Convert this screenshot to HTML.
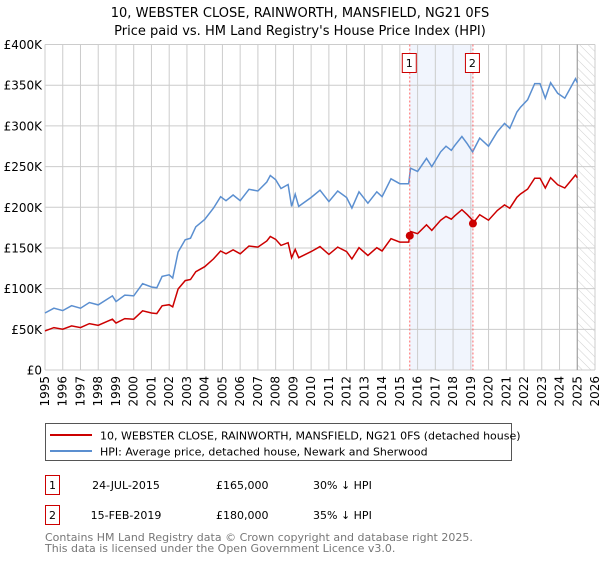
<!DOCTYPE html>
<html><head><meta charset="utf-8"><style>
body{margin:0;background:#fff;font-family:"Liberation Sans","DejaVu Sans",sans-serif;}
svg text{font-family:"DejaVu Sans","Liberation Sans",sans-serif;}
</style></head><body>
<svg width="600" height="560" viewBox="0 0 600 560" xmlns="http://www.w3.org/2000/svg">
<defs><pattern id="hatch" width="6" height="6" patternUnits="userSpaceOnUse" patternTransform="rotate(-45)"><line x1="0" y1="0" x2="0" y2="6" stroke="#d0d0d0" stroke-width="1"/></pattern></defs>
<text x="300" y="17" text-anchor="middle" font-size="13" fill="#000">10, WEBSTER CLOSE, RAINWORTH, MANSFIELD, NG21 0FS</text>
<text x="300" y="35" text-anchor="middle" font-size="13" fill="#000">Price paid vs. HM Land Registry's House Price Index (HPI)</text>
<g id="grid"></g>
<g id="marks"></g>
<g id="axes"></g>
<rect x="45.5" y="423.5" width="466" height="37" fill="#fff" stroke="#555"/>
<line x1="50" y1="435" x2="92" y2="435" stroke="#cc0000" stroke-width="2"/>
<text x="100" y="439.5" font-size="11">10, WEBSTER CLOSE, RAINWORTH, MANSFIELD, NG21 0FS (detached house)</text>
<line x1="50" y1="451" x2="92" y2="451" stroke="#5b8fd0" stroke-width="2"/>
<text x="100" y="455.5" font-size="11">HPI: Average price, detached house, Newark and Sherwood</text>
<g font-size="11">
<rect x="45.5" y="475.5" width="14" height="19" fill="#fff" stroke="#cc0000"/><text x="52.5" y="489" text-anchor="middle">1</text>
<text x="126" y="489" text-anchor="middle">24-JUL-2015</text><text x="216" y="489">£165,000</text><text x="313" y="489">30% ↓ HPI</text></g>
<g font-size="11">
<rect x="45.5" y="505.5" width="14" height="19" fill="#fff" stroke="#cc0000"/><text x="52.5" y="519" text-anchor="middle">2</text>
<text x="126" y="519" text-anchor="middle">15-FEB-2019</text><text x="216" y="519">£180,000</text><text x="313" y="519">35% ↓ HPI</text></g>
<text x="45" y="541" font-size="11" fill="#777">Contains HM Land Registry data © Crown copyright and database right 2025.</text>
<text x="45" y="552" font-size="11" fill="#777">This data is licensed under the Open Government Licence v3.0.</text>
</svg>
<script>
const hpiYears=[1995.0,1995.5,1996.0,1996.5,1997.0,1997.5,1998.0,1998.5,1998.8,1999.0,1999.5,2000.0,2000.5,2001.0,2001.3,2001.6,2002.0,2002.2,2002.5,2002.9,2003.2,2003.5,2004.0,2004.5,2004.9,2005.2,2005.6,2006.0,2006.5,2007.0,2007.5,2007.7,2008.0,2008.3,2008.7,2008.9,2009.1,2009.3,2010.0,2010.5,2011.0,2011.5,2012.0,2012.3,2012.7,2013.2,2013.7,2014.0,2014.5,2015.0,2015.5,2015.6,2016.0,2016.5,2016.8,2017.3,2017.6,2017.9,2018.1,2018.5,2018.8,2019.1,2019.5,2020.0,2020.5,2020.9,2021.2,2021.6,2021.8,2022.2,2022.6,2022.9,2023.2,2023.5,2023.9,2024.3,2024.6,2024.9,2025.0];
const hpiValues=[70,76,73,79,76,83,80,87,91,84,92,91,106,102,101,115,117,113,145,160,162,176,185,199,213,208,215,208,222,220,231,239,234,223,228,201,216,201,212,221,207,220,212,199,219,205,219,213,235,229,229,248,244,260,250,268,275,270,276,287,278,268,285,275,293,303,297,317,323,332,352,352,334,353,340,334,346,358,353];
const saleDates=[2015.56,2019.12];
const salePrices=[165,180];
const saleLabels=["1","2"];
const yTicks=[0,50,100,150,200,250,300,350,400];
const yTickLabels=["£0","£50K","£100K","£150K","£200K","£250K","£300K","£350K","£400K"];
const xTicks=[];for(let y=1995;y<=2026;y++)xTicks.push(y);

const X0=45,X1=595,Y0=370,Y1=44.5,XMIN=1995,XMAX=2026,YMAX=400;
const sx=v=>X0+(v-XMIN)/(XMAX-XMIN)*(X1-X0);
const sy=v=>Y0-v/YMAX*(Y0-Y1);
const NS="http://www.w3.org/2000/svg";
function mk(tag,attrs,parent){const e=document.createElementNS(NS,tag);for(const k in attrs)e.setAttribute(k,attrs[k]);parent.appendChild(e);return e;}
function hpiAt(t){for(let i=0;i<hpiYears.length-1;i++){if(t<=hpiYears[i+1]){const f=(t-hpiYears[i])/(hpiYears[i+1]-hpiYears[i]);return hpiValues[i]+f*(hpiValues[i+1]-hpiValues[i]);}}return hpiValues[hpiValues.length-1];}
const grid=document.getElementById('grid'),marks=document.getElementById('marks'),axes=document.getElementById('axes');
let band=mk('rect',{x:sx(saleDates[0]),y:Y1,width:sx(saleDates[1])-sx(saleDates[0]),height:Y0-Y1,fill:'#eef3fc',opacity:0.8},grid);


let hx=sx(hpiYears[hpiYears.length-1]);
let ha=mk('rect',{x:hx,y:Y1,width:X1-hx,height:Y0-Y1,fill:'url(#hatch)'},grid);


xTicks.forEach(t=>{const l=mk('line',{x1:sx(t),x2:sx(t),y1:Y1,y2:Y0,stroke:'#cccccc','stroke-width':1},grid);


const tx=mk('text',{x:0,y:0,'font-size':12,'text-anchor':'end',transform:`translate(${sx(t)+4},${Y0+6}) rotate(-90)`},axes);tx.textContent=t;

});
yTicks.forEach((t,i)=>{const l=mk('line',{x1:X0,x2:X1,y1:sy(t),y2:sy(t),stroke:'#cccccc','stroke-width':1},grid);


const tx=mk('text',{x:X0-3,y:sy(t)+4.5,'font-size':12,'text-anchor':'end'},axes);tx.textContent=yTickLabels[i];

});
let el=mk('line',{x1:hx,x2:hx,y1:Y1,y2:Y0,stroke:'#999','stroke-width':1},grid);


let d=hpiYears.map((t,i)=>(i?'L':'M')+sx(t).toFixed(1)+','+sy(hpiValues[i]).toFixed(1)).join('');
let hp=mk('path',{d:d,fill:'none',stroke:'#5b8fd0','stroke-width':1.5},marks);


const r1=salePrices[0]/hpiAt(saleDates[0]),r2=salePrices[1]/hpiAt(saleDates[1]);
let pts=[];
hpiYears.forEach((t,i)=>{if(t<saleDates[1])pts.push([t,hpiValues[i]*r1]);});
pts.push([saleDates[1],salePrices[1]]);
hpiYears.forEach((t,i)=>{if(t>saleDates[1])pts.push([t,hpiValues[i]*r2]);});
let pd=pts.map((p,i)=>(i?'L':'M')+sx(p[0]).toFixed(1)+','+sy(p[1]).toFixed(1)).join('');
let pp=mk('path',{d:pd,fill:'none',stroke:'#cc0000','stroke-width':1.5},marks);


saleDates.forEach((t,i)=>{
const v=mk('line',{x1:sx(t),x2:sx(t),y1:Y1,y2:Y0,stroke:'#ff6666','stroke-width':1,'stroke-dasharray':'2,2'},marks);


const c=mk('circle',{cx:sx(t),cy:sy(salePrices[i]),r:4,fill:'#cc0000'},marks);


const b=mk('rect',{x:sx(t)-7.5,y:53.5,width:14,height:19,fill:'#fff',stroke:'#cc0000'},marks);


const tx=mk('text',{x:sx(t)-0.5,y:67,'font-size':11,'text-anchor':'middle'},marks);tx.textContent=saleLabels[i];

});
</script>
</body></html>
